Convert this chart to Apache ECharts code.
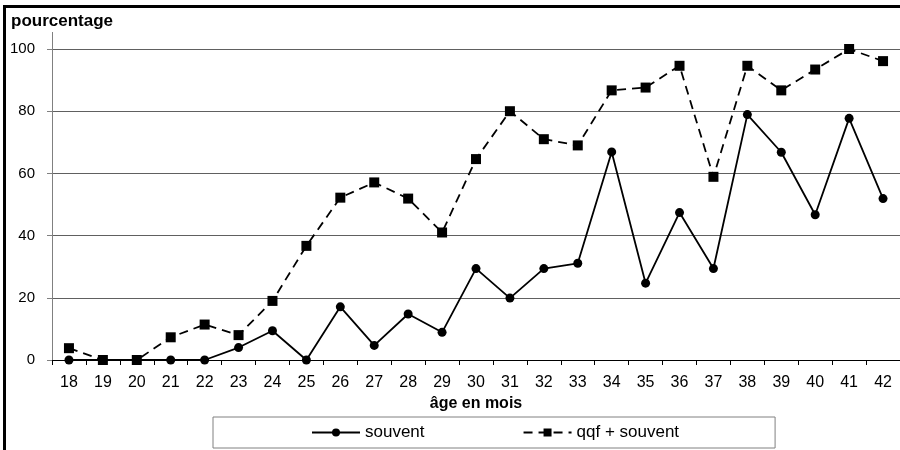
<!DOCTYPE html>
<html><head><meta charset="utf-8">
<script src="https://cdn.jsdelivr.net/npm/echarts@6/dist/echarts.min.js"></script>
<style>html,body{margin:0;padding:0;background:#fff}#c{width:900px;height:450px}</style>
</head><body><div id="c"></div>
<script>
const categories = ['18','19','20','21','22','23','24','25','26','27','28','29','30','31','32','33','34','35','36','37','38','39','40','41','42'];
const souvent = [0,0,0,0,0,4,9.4,0,17.1,4.7,14.8,8.9,29.4,19.9,29.4,31.1,66.9,24.7,47.4,29.4,78.9,66.8,46.7,77.7,51.9];
const qqfSouvent = [3.8,0,0,7.3,11.4,8,19,36.7,52.2,57.1,51.9,41,64.6,80,71,69,86.7,87.6,94.6,58.9,94.6,86.7,93.4,100,96.1];
const yTicks = [0,20,40,60,80,100];

const chart = echarts.init(document.getElementById('c'), null, {renderer:'canvas'});
const font = 'Liberation Sans, Arial, sans-serif';
chart.setOption({
  animation:false,
  backgroundColor:'#fff',
  textStyle:{fontFamily:font},
  title:{text:'pourcentage', left:11, top:13, padding:0, textStyle:{fontSize:17, fontWeight:'bold', color:'#000', fontFamily:font}},
  grid:{left:52, right:0, top:49, bottom:90},
  legend:{
    left:213, top:417, padding:[7,96,7,98], itemGap:98, itemWidth:48, itemHeight:10,
    borderColor:'#808080', borderWidth:1, backgroundColor:'#fff',
    textStyle:{fontSize:17, color:'#000', fontFamily:font}
  },
  xAxis:{
    type:'category', data:categories, boundaryGap:true,
    name:'âge en mois', nameLocation:'middle', nameGap:33,
    nameTextStyle:{fontSize:16, fontWeight:'bold', color:'#000', fontFamily:font},
    axisLine:{lineStyle:{color:'#000', width:1}},
    axisTick:{show:true, length:5, lineStyle:{color:'#000'}, alignWithLabel:false},
    axisLabel:{fontSize:16, color:'#000', margin:15, fontFamily:font}
  },
  yAxis:{
    type:'value', min:yTicks[0], max:yTicks[yTicks.length-1], interval:20,
    axisLine:{show:true, lineStyle:{color:'#808080', width:1}},
    axisTick:{show:true, length:5, lineStyle:{color:'#808080'}},
    axisLabel:{fontSize:15, color:'#000', margin:17, fontFamily:font},
    splitLine:{lineStyle:{color:'#606060', width:1}}
  },
  series:[
    {name:'souvent', type:'line', data:souvent, symbol:'circle', symbolSize:9,
     itemStyle:{color:'#000'}, lineStyle:{color:'#000', width:1.8}},
    {name:'qqf + souvent', type:'line', data:qqfSouvent, symbol:'rect', symbolSize:10,
     itemStyle:{color:'#000'}, lineStyle:{color:'#000', width:1.8, type:[9,6]}}
  ],
  graphic:[
    {type:'line', shape:{x1:4.5, y1:5, x2:4.5, y2:450}, style:{stroke:'#000', lineWidth:3}},
    {type:'line', shape:{x1:3, y1:6.5, x2:900, y2:6.5}, style:{stroke:'#000', lineWidth:3}},
    {type:'line', shape:{x1:52.5, y1:32, x2:52.5, y2:49}, style:{stroke:'#808080', lineWidth:1}}
  ]
});
</script></body></html>
